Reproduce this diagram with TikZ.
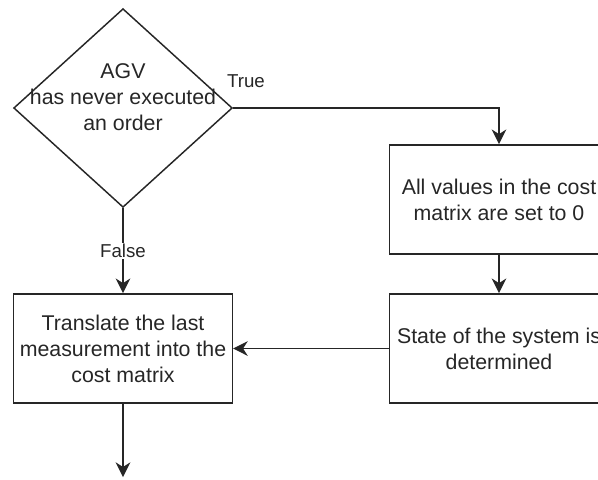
\documentclass[tikz,border=0pt]{standalone}
\usepackage{fontspec}
\setmainfont{Liberation Sans}
\usetikzlibrary{
  arrows.meta,
  shapes.geometric,
  chains,
  positioning,
  scopes
}

\begin{document}
\begin{tikzpicture}[
      x=0.75pt, y=-0.75pt,
      decision/.style={
         diamond,
         draw=black!85,
         line width=1.1pt,
         minimum width=164pt,
         minimum height=149pt,
         inner sep=0pt
      },
      process/.style={
         rectangle,
         draw=black!85,
         line width=1.1pt,
         minimum width=164pt,
         minimum height=82pt,
         align=center,
         text=black!85,
         font=\fontsize{16}{19.5}\selectfont
      },
      caption/.style={
         align=center,
         text=black!85,
         font=\fontsize{16}{19.5}\selectfont
      },
      branch/.style={
         fill=white,
         inner sep=1pt,
         text=black!85,
         font=\fontsize{14}{17}\selectfont
      },
      >={Stealth[length=11pt,width=11pt,inset=3.5pt]},
      tip/.style={->},
      every join/.style={draw=black!85,line width=1.1pt},
      hv path/.style={to path={-| (\tikztotarget)}}
    ]
    \useasboundingbox (0,0) rectangle (598,479);
    \clip (0,0) rectangle (598,479);

    \node (cond) [decision,
       label={[caption,yshift=8pt]center:{AGV\\has never executed\\an order}}]
       at (123,108) {};
    \node (reset) [process] at (499,199.5) {All values in the cost\\matrix are set to 0};
    \node (state) [process] at (499,348.5) {State of the system is\\determined};
    \node (translate) [process] at (123,348.5) {Translate the last\\measurement into the\\cost matrix};
    \coordinate (stop) at (123,477);

  { [start chain]
       \chainin (cond);
       \chainin (reset)     [join=by {hv path,tip}];
  }
  { [start chain]
       \chainin (cond);
       \chainin (translate) [join=by tip];
  }
  { [start chain]
       \chainin (reset);
       \chainin (state)     [join=by tip];
       \chainin (translate) [join=by tip];
       \chainin (stop)      [join=by tip];
  }

    \node (yes) [branch] at (246,81) {True};
    \node (no)  [branch] at (123,251) {False};
\end{tikzpicture}
\end{document}
